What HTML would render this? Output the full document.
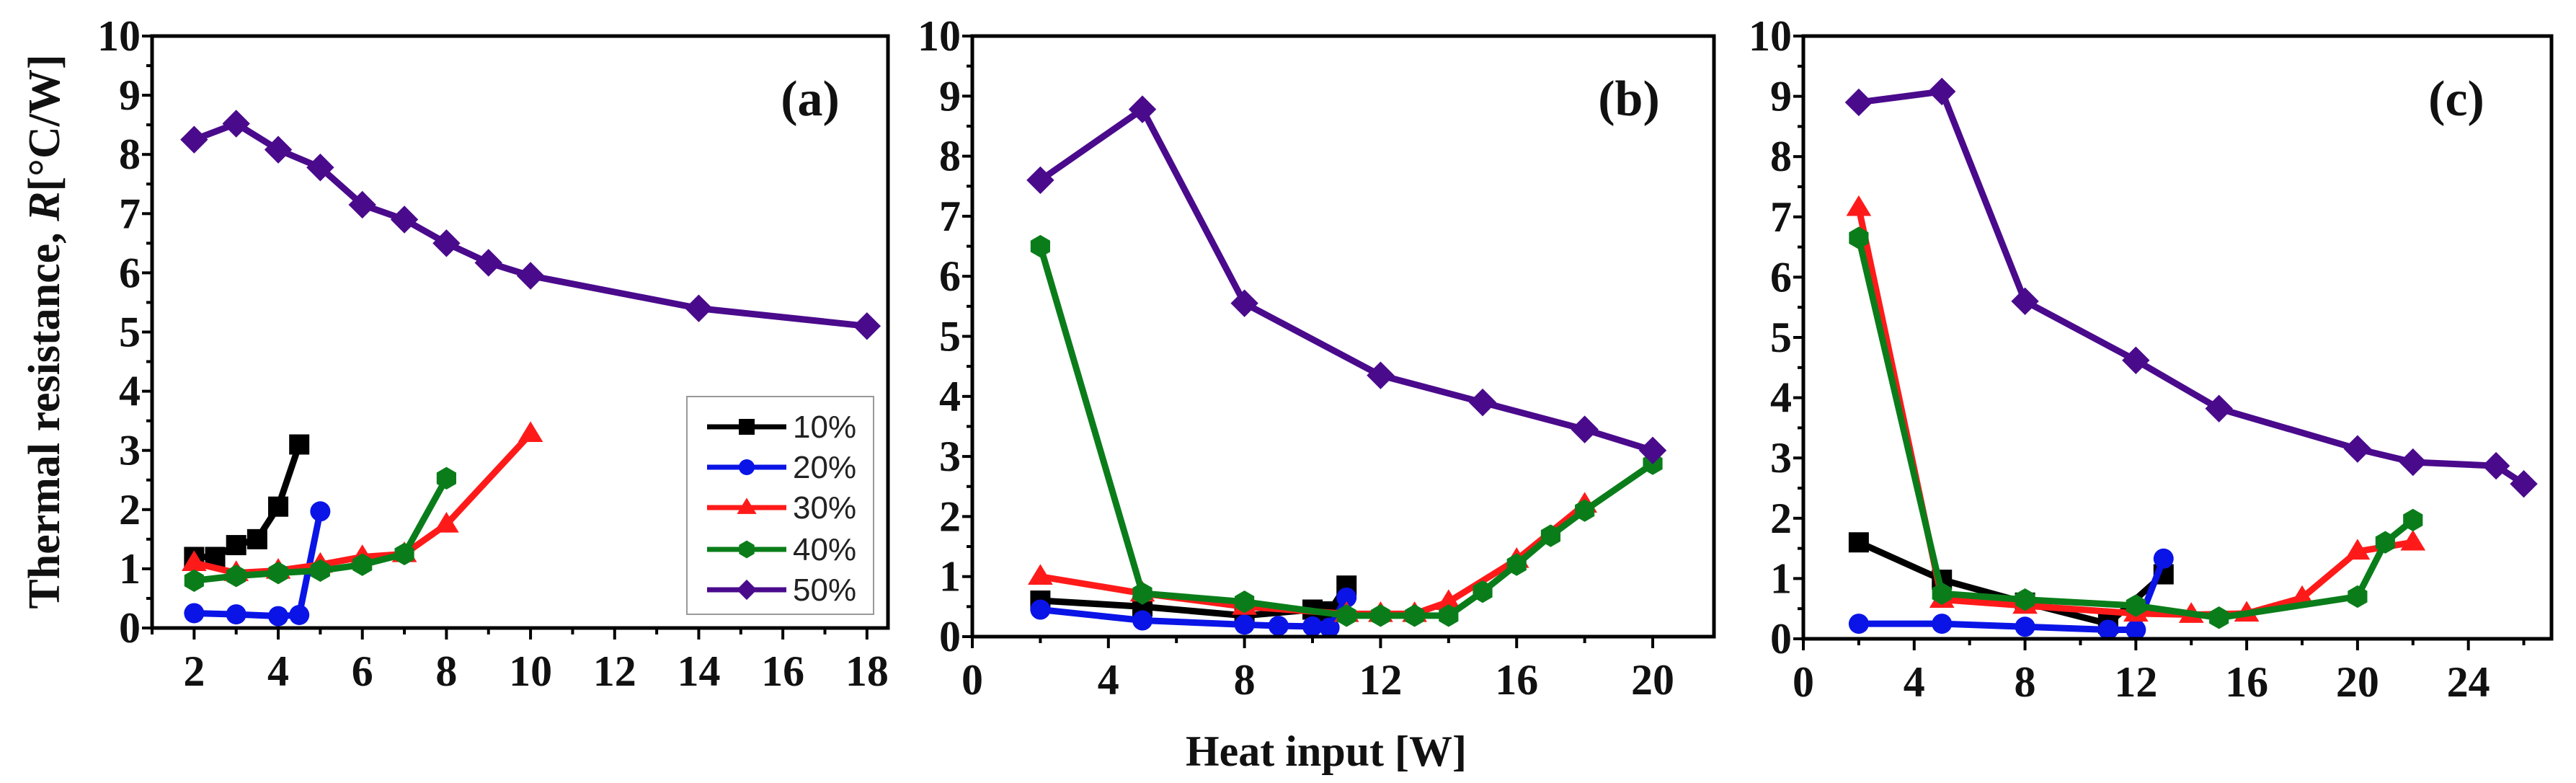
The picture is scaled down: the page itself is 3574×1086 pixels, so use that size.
<!DOCTYPE html>
<html><head><meta charset="utf-8"><style>
html,body{margin:0;padding:0;background:#fff;}
svg{display:block;}
.tick{font-family:"Liberation Serif",serif;font-weight:bold;font-size:60px;fill:#111;}
.ttl{font-family:"Liberation Serif",serif;font-weight:bold;fill:#111;}
.leg{font-family:"Liberation Sans",sans-serif;font-size:44px;fill:#222;}
</style></head><body>
<svg id="chart" width="3574" height="1086" viewBox="0 0 3574 1086" xmlns="http://www.w3.org/2000/svg">
<text class="ttl" font-size="62" transform="translate(82,460) rotate(-90)" text-anchor="middle">Thermal resistance, <tspan font-style="italic">R</tspan>[°C/W]</text>
<text class="ttl" font-size="60" x="1840" y="1062" text-anchor="middle">Heat input [W]</text>
</svg>
<script>
const seriesNames = ['10%','20%','30%','40%','50%'];
const seriesColors = ['#000000','#0a14e6','#ff1a1a','#0a7d1a','#4a0a8c'];
const seriesMarkers = ['square','circle','triangle','hexagon','diamond'];
// Panel (a)
const aX10 = [2,2.5,3,3.5,4,4.5];
const aY10 = [1.2,1.2,1.4,1.5,2.05,3.1];
const aX20 = [2,3,4,4.5,5];
const aY20 = [0.25,0.23,0.2,0.22,1.97];
const aX30 = [2,3,4,5,6,7,8,10];
const aY30 = [1.1,0.93,0.97,1.07,1.2,1.25,1.75,3.28];
const aX40 = [2,3,4,5,6,7,8];
const aY40 = [0.8,0.88,0.93,0.97,1.07,1.25,2.53];
const aX50 = [2,3,4,5,6,7,8,9,10,14,18];
const aY50 = [8.25,8.52,8.08,7.78,7.15,6.9,6.5,6.17,5.95,5.4,5.1];
// Panel (b)
const bX10 = [2,5,8,10,10.5,11];
const bY10 = [0.6,0.5,0.35,0.45,0.42,0.85];
const bX20 = [2,5,8,9,10,10.5,11];
const bY20 = [0.45,0.27,0.2,0.18,0.17,0.15,0.65];
const bX30 = [2,5,8,11,12,13,14,16,18];
const bY30 = [1.0,0.72,0.5,0.38,0.38,0.38,0.58,1.28,2.2];
const bX40 = [2,5,8,11,12,13,14,15,16,17,18,20];
const bY40 = [6.5,0.72,0.58,0.35,0.35,0.35,0.35,0.75,1.2,1.68,2.1,2.88];
const bX50 = [2,5,8,12,15,18,20];
const bY50 = [7.6,8.78,5.55,4.35,3.9,3.45,3.1];
// Panel (c)
const cX10 = [2,5,8,11,13];
const cY10 = [1.6,0.98,0.6,0.25,1.07];
const cX20 = [2,5,8,11,12,13];
const cY20 = [0.25,0.25,0.2,0.15,0.15,1.33];
const cX30 = [2,5,8,12,14,16,18,20,22];
const cY30 = [7.15,0.65,0.55,0.42,0.4,0.42,0.68,1.45,1.6];
const cX40 = [2,5,8,12,15,20,21,22];
const cY40 = [6.65,0.75,0.65,0.55,0.35,0.7,1.6,1.97];
const cX50 = [2,5,8,12,15,20,22,25,26];
const cY50 = [8.9,9.08,5.6,4.62,3.82,3.15,2.93,2.87,2.57];
const yTickLabels = ['0','1','2','3','4','5','6','7','8','9','10'];
const aXTickLabels = ['2','4','6','8','10','12','14','16','18'];
const bXTickLabels = ['0','4','8','12','16','20'];
const cXTickLabels = ['0','4','8','12','16','20','24'];

const NS='http://www.w3.org/2000/svg';
const svg=document.getElementById('chart');
function mk(tag,attrs,parent){const e=document.createElementNS(NS,tag);for(const k in attrs)e.setAttribute(k,attrs[k]);(parent||svg).appendChild(e);return e;}

function marker(g,type,cx,cy,s,color){
  let e;
  if(type==='square'){e=mk('rect',{x:cx-s/2,y:cy-s/2,width:s,height:s,fill:color},g);}
  else if(type==='circle'){e=mk('circle',{cx:cx,cy:cy,r:s/2,fill:color},g);}
  else if(type==='triangle'){const h=s*0.62;e=mk('polygon',{points:`${cx},${cy-h} ${cx-h},${cy+h*0.65} ${cx+h},${cy+h*0.65}`,fill:color},g);}
  else if(type==='hexagon'){const r=s*0.56;let p=[];for(let i=0;i<6;i++){const a=Math.PI/3*i-Math.PI/2;p.push((cx+r*Math.cos(a))+','+(cy+r*Math.sin(a)));}e=mk('polygon',{points:p.join(' '),fill:color},g);}
  else {const r=s*0.64;e=mk('polygon',{points:`${cx},${cy-r} ${cx+r},${cy} ${cx},${cy+r} ${cx-r},${cy}`,fill:color},g);}
  return e;
}

function panel(cfg){
  const {id,left,right,top,bottom,xmin,xmax,xMajorStep,xMinorStep,xTicks,xs,ys,label,labelX}=cfg;
  const g=mk('g',{});
  
  
  const sx=v=>left+(v-xmin)/(xmax-xmin)*(right-left);
  const sy=v=>bottom-(v/10)*(bottom-top);
  for(let v=0;v<=10;v+=0.5){
    const y=sy(v);const major=Math.abs(v-Math.round(v))<1e-6;
    mk('line',{x1:left,x2:left-(major?14:8),y1:y,y2:y,stroke:'#000','stroke-width':4},g);
  }
  yTickLabels.forEach((t,i)=>{
    const tx=mk('text',{x:left-16,y:sy(+t)+20,'text-anchor':'end',class:'tick'},g);tx.textContent=t;
    
    
  });
  for(let v=Math.ceil(xmin/xMinorStep)*xMinorStep;v<=xmax+1e-6;v+=xMinorStep){
    const x=sx(v);const major=Math.abs(v/xMajorStep-Math.round(v/xMajorStep))<1e-6;
    mk('line',{x1:x,x2:x,y1:bottom,y2:bottom+(major?16:9),stroke:'#000','stroke-width':4},g);
  }
  xTicks.forEach(t=>{
    const tx=mk('text',{x:sx(+t),y:bottom+80,'text-anchor':'middle',class:'tick'},g);tx.textContent=t;
    
    
  });
  for(let s=0;s<5;s++){
    const sg=mk('g',{},g);
    
    
    const X=xs[s],Y=ys[s];
    const pts=X.map((x,i)=>sx(x)+','+sy(Y[i])).join(' ');
    mk('polyline',{points:pts,fill:'none',stroke:seriesColors[s],'stroke-width':9,'stroke-linejoin':'round'},sg);
    X.forEach((x,i)=>{
      const m=marker(sg,seriesMarkers[s],sx(x),sy(Y[i]),s===4?30:28,seriesColors[s]);
      
      
    });
  }
  const fr=mk('rect',{x:left,y:top,width:right-left,height:bottom-top,fill:'none',stroke:'#000','stroke-width':5},g);
  
  
  const lb=mk('text',{x:labelX,y:top+110,'text-anchor':'middle',class:'ttl','font-size':70},g);
  lb.textContent=label;
  
  
  return g;
}

panel({id:'a',left:211,right:1232,top:50,bottom:871,xmin:1,xmax:18.5,xMajorStep:2,xMinorStep:1,xTicks:aXTickLabels,
  xs:[aX10,aX20,aX30,aX40,aX50],ys:[aY10,aY20,aY30,aY40,aY50],label:'(a)',labelX:1124});
panel({id:'b',left:1349,right:2378,top:50,bottom:883,xmin:0,xmax:21.8,xMajorStep:4,xMinorStep:2,xTicks:bXTickLabels,
  xs:[bX10,bX20,bX30,bX40,bX50],ys:[bY10,bY20,bY30,bY40,bY50],label:'(b)',labelX:2260});
panel({id:'c',left:2502,right:3540,top:50,bottom:886,xmin:0,xmax:27,xMajorStep:4,xMinorStep:2,xTicks:cXTickLabels,
  xs:[cX10,cX20,cX30,cX40,cX50],ys:[cY10,cY20,cY30,cY40,cY50],label:'(c)',labelX:3408});

const lg=mk('g',{});


mk('rect',{x:953,y:550,width:259,height:302,fill:'#fff',stroke:'#999','stroke-width':2},lg);
const legY=[592,648,704,762,818];
for(let s=0;s<5;s++){
  const eg=mk('g',{},lg);
  
  
  mk('line',{x1:981,x2:1091,y1:legY[s],y2:legY[s],stroke:seriesColors[s],'stroke-width':7},eg);
  marker(eg,seriesMarkers[s],1036,legY[s],22,seriesColors[s]);
  const t=mk('text',{x:1100,y:legY[s]+15,class:'leg'},eg);t.textContent=seriesNames[s];
}
</script>
</body></html>
